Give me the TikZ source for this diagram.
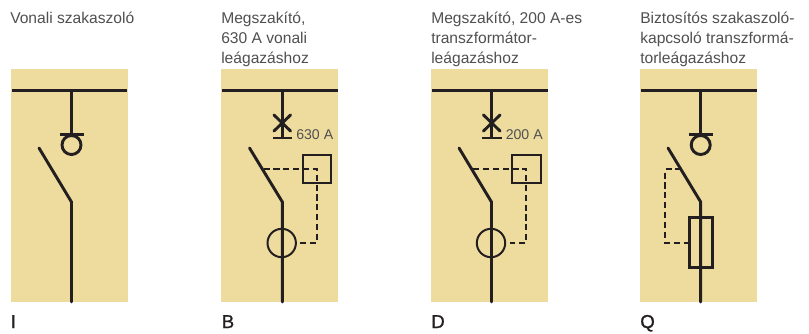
\documentclass[tikz,border=0pt]{standalone}
\usepackage{fontspec}
\setmainfont{Liberation Sans}
\newfontfamily\tagfont[FakeBold=1]{Liberation Sans}
\definecolor{panelc}{HTML}{EEDC9E}
\definecolor{inkc}{HTML}{231F20}
\definecolor{txtc}{HTML}{505050}
\tikzset{
  panel/.style={fill=panelc,draw=none},
  thick line/.style={draw=inkc,line width=2.2pt},
  bus/.style={draw=inkc,line width=2.6pt},
  thin sym/.style={draw=inkc,line width=1.5pt},
  dash link/.style={draw=inkc,line width=1.4pt,dash pattern=on 4.6pt off 2.8pt},
  caption/.style={anchor=base west,inner sep=0pt,font=\fontsize{11.7pt}{15pt}\selectfont,text=txtc},
  rating/.style={anchor=base west,inner sep=0pt,font=\fontsize{10.6pt}{15pt}\selectfont,text=txtc},
  tag/.style={anchor=base west,inner sep=0pt,font=\tagfont\fontsize{14pt}{16pt}\selectfont,text=inkc},
}
\begin{document}
\begin{tikzpicture}[x=0.75pt,y=-0.75pt]
\useasboundingbox (0,0) rectangle (809,333);
\fill[white] (0,0) rectangle (809,333);
% panels
\fill[panel] (11,69) rectangle (128,302);
\fill[panel] (221,69) rectangle (338,302);
\fill[panel] (431,69) rectangle (548,302);
\fill[panel] (640,69) rectangle (757,302);
% captions
\node[caption] (ci) at (10,23) {Vonali szakaszoló};
\node[caption] (cb1) at (221,23) {Megszakító,};
\node[caption] (cb2) at (221,43.3) {630 A vonali};
\node[caption] (cb3) at (221,63.3) {leágazáshoz};
\node[caption] (cd1) at (431,23) {Megszakító, 200 A-es};
\node[caption] (cd2) at (431,43.3) {transzformátor-};
\node[caption] (cd3) at (431,63.3) {leágazáshoz};
\node[caption] (cq1) at (640,23) {Biztosítós szakaszoló-};
\node[caption] (cq2) at (640,43.3) {kapcsoló transzformá-};
\node[caption] (cq3) at (640,63.3) {torleágazáshoz};
% tags
\node[tag] (ti) at (10.5,328) {I};
\node[tag] (tb) at (221.5,328) {B};
\node[tag] (td) at (431,328) {D};
\node[tag] (tq) at (640,328) {Q};
% I
\draw[bus] (11.5,90.5) -- (127,90.5);
\draw[thick line] (71.5,90.5) -- (71.5,134);
\draw[thick line] (59.5,134.5) -- (84,134.5);
\draw[thick line] (71.5,145) circle (9.5);
\draw[thick line,line cap=round] (39,148) -- (71.5,202) -- (71.5,302);
% B
\draw[bus] (222,90.5) -- (338,90.5);
\draw[thick line] (282.4,90.5) -- (282.4,138);
\draw[thick line,line cap=round] (274,115) -- (290.5,131) (290.5,115) -- (274,131);
\draw[thick line] (272.5,138) -- (292,138);
\node[rating] (rb) at (296,139) {630 A};
\draw[thick line,line cap=round] (249.5,148) -- (282.4,202) -- (282.4,302);
\draw[thin sym] (281.7,243) circle (14.2);
\draw[thin sym] (302.5,154.5) rectangle (331,183);
\draw[dash link] (263.5,169) -- (317,169) -- (317,243) -- (300,243);
% D
\draw[bus] (431.5,90.5) -- (547.5,90.5);
\draw[thick line] (491.5,90.5) -- (491.5,138);
\draw[thick line,line cap=round] (483.5,115) -- (500,131) (500,115) -- (483.5,131);
\draw[thick line] (482,138) -- (501.5,138);
\node[rating] (rd) at (505.5,139) {200 A};
\draw[thick line,line cap=round] (459,148) -- (491.5,202) -- (491.5,302);
\draw[thin sym] (491,243) circle (14.2);
\draw[thin sym] (512,154.5) rectangle (540.5,183);
\draw[dash link] (473,169) -- (526.2,169) -- (526.2,243) -- (509.5,243);
% Q
\draw[bus] (640.5,90.5) -- (756.5,90.5);
\draw[thick line] (700.7,90.5) -- (700.7,134);
\draw[thick line] (688.5,134.5) -- (713,134.5);
\draw[thick line] (700.7,145) circle (9.5);
\draw[thick line,line cap=round] (668,148) -- (700.7,202) -- (700.7,302);
\draw[thick line] (689.5,217.2) rectangle (712.5,267.8);
\draw[dash link] (681.5,169) -- (665.3,169) -- (665.3,243) -- (688,243);
\end{tikzpicture}
\end{document}
